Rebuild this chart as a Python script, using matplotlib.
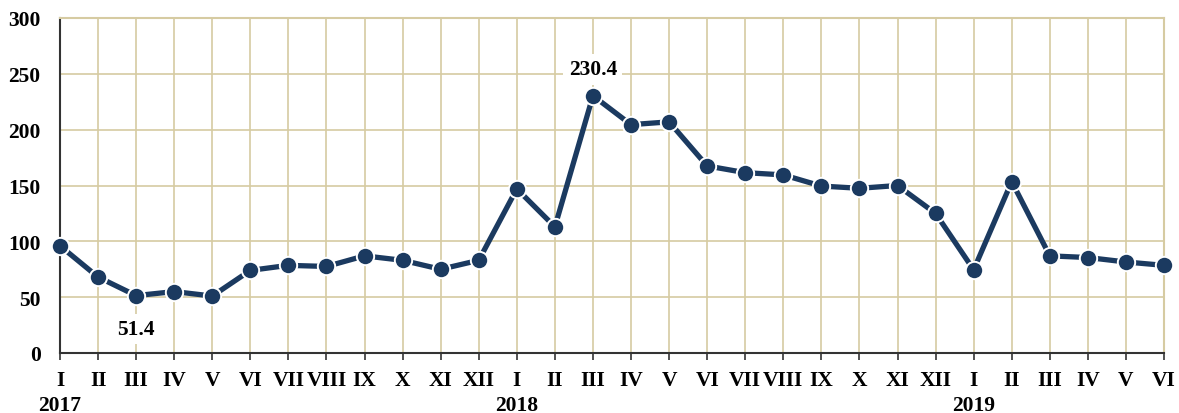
import matplotlib

matplotlib.use("Agg")
import matplotlib.pyplot as plt
import matplotlib.transforms as mtransforms

plt.rcParams["font.family"] = ["Liberation Serif", "DejaVu Serif"]
plt.rcParams["font.weight"] = "bold"

months = ["I", "II", "III", "IV", "V", "VI", "VII", "VIII", "IX", "X", "XI", "XII"]
labels = months * 2 + months[:6]
years = ["2017", "2018", "2019"]
values = [
    96, 68, 51.4, 55, 51, 74, 78.5, 77.5, 87, 83, 75, 83,
    147, 113, 230.4, 204.5, 207, 167.5, 161.5, 159.5, 149.5, 147.5, 150, 125,
    74.5, 153.5, 87, 85.5, 81.5, 78.5,
]
annotated = {2: "51.4", 14: "230.4"}

navy = "#1b3a60"
grid_c = "#d6cba2"

fig = plt.figure(figsize=(11.79, 4.14), dpi=100)
ax = fig.add_axes([60 / 1179, 60 / 414, 1104 / 1179, 335 / 414])

x = list(range(len(values)))
ax.plot(x, values, "-o", color=navy, lw=3.8, ms=12.5,
        mfc=navy, mec="white", mew=1.4, zorder=3, clip_on=False)

ax.set_xlim(0, len(values) - 1)
ax.set_ylim(0, 300)
ax.set_yticks(range(0, 301, 50))
ax.set_xticks(x)
ax.set_xticklabels(labels)
ax.grid(True, color=grid_c, lw=1.2, zorder=0)
ax.set_axisbelow(True)

for s in ("top", "right"):
    ax.spines[s].set_color(grid_c)
    ax.spines[s].set_linewidth(1.5)
for s in ("left", "bottom"):
    ax.spines[s].set_color("#333333")
    ax.spines[s].set_linewidth(1.5)

ax.tick_params(axis="x", length=5, width=1.2, color="#333333",
               labelsize=15.5, pad=7)
ax.tick_params(axis="y", length=0, labelsize=15.5, pad=14)

trans = mtransforms.blended_transform_factory(ax.transData, ax.transAxes)
for i, yr in enumerate(years):
    ax.text(i * 12, -0.155, yr, transform=trans, ha="center", va="center",
            fontsize=15.5, fontweight="bold")

for i, txt in annotated.items():
    off = 19 if values[i] > 150 else -24
    ax.annotate(txt, (i, values[i]), xytext=(0, off), textcoords="offset points",
                ha="center", va="center", fontsize=15.5, fontweight="bold",
                bbox=dict(boxstyle="square,pad=0.25", fc="white", ec="none"),
                zorder=4)

fig.savefig("out.png", dpi=100)
